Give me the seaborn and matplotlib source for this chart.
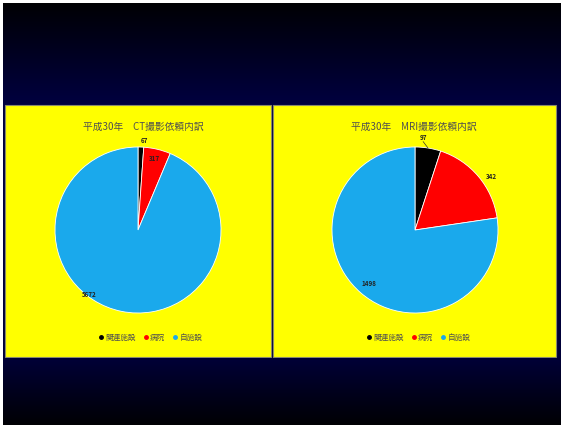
import numpy as np
import matplotlib
matplotlib.use("Agg")
import matplotlib.pyplot as plt
from matplotlib.colors import LinearSegmentedColormap
from matplotlib.patches import Rectangle
import seaborn as sns

sns.set_theme(style="white")
plt.rcParams["font.family"] = ["Noto Sans CJK JP", "DejaVu Sans"]

# Data
categories = ["関連施設", "病院", "自施設"]
ct_values = [67, 317, 5672]
mri_values = [97, 342, 1498]
titles = ["平成30年　CT撮影依頼内訳", "平成30年　MRI撮影依頼内訳"]

colors = ["#000000", "#FF0000", "#1AA9EC"]
text_color = "#505050"

W, H = 561, 425
fig = plt.figure(figsize=(W / 100, H / 100), dpi=100, facecolor="white")


def fx(px):
    return px / W


def fy(py):
    return 1 - py / H


# Slide background: dark navy gradient
bg = fig.add_axes([fx(3), 0, fx(W - 3), fy(3)])
bg.set_axis_off()
grad_cmap = LinearSegmentedColormap.from_list(
    "slide", [(0.0, "#010104"), (0.24, "#000040"), (0.84, "#000038"), (1.0, "#010104")])
bg.imshow(np.linspace(0, 1, 256)[:, None], aspect="auto", cmap=grad_cmap,
          extent=[0, 1, 0, 1], origin="upper")
bg.set_xlim(0, 1)
bg.set_ylim(0, 1)

# Yellow chart band with two panels
band = fig.add_axes([fx(3), fy(358), fx(W - 3), fy(104) - fy(358)])
band.set_axis_off()
band.set_xlim(3, W)
band.set_ylim(358, 104)
band.add_patch(Rectangle((5, 105), 266, 252, facecolor="#FFFF00", edgecolor="#8a8a6a", lw=0.8))
band.add_patch(Rectangle((273, 105), 283, 252, facecolor="#FFFF00", edgecolor="#8a8a6a", lw=0.8))

panels = [
    dict(values=ct_values, title=titles[0], center=(138, 230), title_x=143, legend_x=150,
         label_pos=[(4, 1.08), (13, 0.88), (217, 0.98)], leader=[False, False, False]),
    dict(values=mri_values, title=titles[1], center=(415, 230), title_x=414, legend_x=418,
         label_pos=[(5, 1.12), (55, 1.13), (221, 0.85)], leader=[True, False, False]),
]

r_px = 83
for p in panels:
    cx, cy = p["center"]
    ax = fig.add_axes([fx(cx - r_px), fy(cy + r_px), fx(2 * r_px), fy(cy - r_px) - fy(cy + r_px)])
    ax.set_axis_off()
    wedges, _ = ax.pie(p["values"], colors=colors, startangle=90, counterclock=False,
                       radius=1.0, wedgeprops=dict(edgecolor="white", linewidth=0.6))
    ax.set_xlim(-1, 1)
    ax.set_ylim(-1, 1)
    ax.set_aspect("equal")

    total = sum(p["values"])
    cum = np.cumsum([0] + p["values"])
    for i, v in enumerate(p["values"]):
        ang, rr = p["label_pos"][i]
        theta = np.deg2rad(90 - ang)
        tx, ty = rr * np.cos(theta), rr * np.sin(theta)
        ax.text(tx, ty, f"{v}", ha="center", va="center", fontsize=4.5,
                fontweight="bold", color="#222222", clip_on=False)
        if p["leader"][i]:
            mid = np.deg2rad(90 - 360 * (cum[i] + v / 2) / total)
            ax.plot([tx, 1.0 * np.cos(mid)], [ty - 0.05, 1.0 * np.sin(mid)],
                    color="#333333", lw=0.5, clip_on=False)

    fig.text(fx(p["title_x"]), fy(127), p["title"], ha="center", va="center",
             fontsize=7, color=text_color)

    handles = [plt.Line2D([0], [0], marker="o", ls="", color=c, markersize=2.5) for c in colors]
    fig.legend(handles, categories, loc="center", bbox_to_anchor=(fx(p["legend_x"]), fy(338)),
               ncol=3, frameon=False, fontsize=5.5, handletextpad=0.05, columnspacing=0.8,
               handlelength=1.0, labelcolor=text_color)

fig.savefig("out.png", dpi=100, facecolor="white")
